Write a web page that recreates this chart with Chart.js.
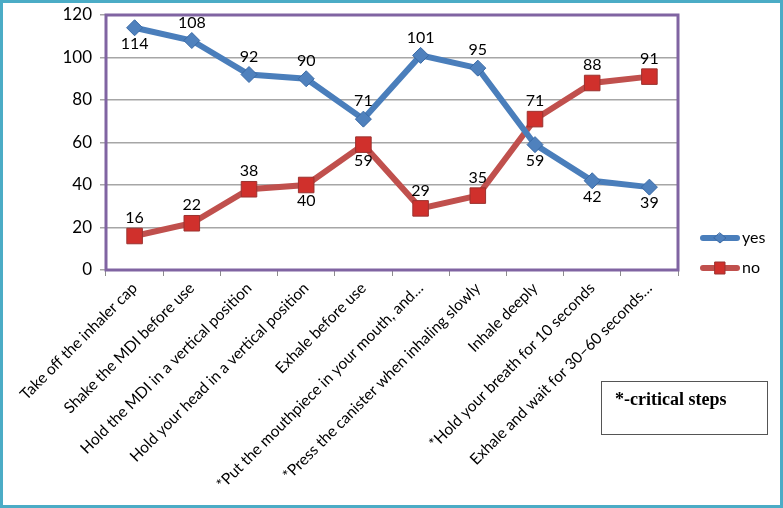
<!DOCTYPE html>
<html lang="en">
<head>
<meta charset="UTF-8" />
<title>Inhaler technique steps</title>
<script src="https://cdn.jsdelivr.net/npm/chart.js"></script>
<style>
    body { margin: 0; padding: 0; background: #fff; }
    .frame {
        position: relative;
        width: 783px;
        height: 508px;
        box-sizing: border-box;
        border: 3px solid #4bacc6;
        background: #fff;
    }
    canvas { display: block; }
    .note {
        position: absolute;
        left: 598px;
        top: 378px;
        width: 167px;
        height: 54px;
        box-sizing: border-box;
        border: 1px solid #555;
        font-family: "Liberation Serif", serif;
        font-weight: bold;
        font-size: 18px;
        padding: 7px 0 0 13px;
        color: #000;
    }
</style>
</head>
<body>
<div class="frame">
    <canvas id="chart" width="777" height="502"></canvas>
    <div class="note">*-critical steps</div>
</div>

<script>
// data
const categories = [
    'Take off the inhaler cap',
    'Shake the MDI before use',
    'Hold the MDI in a vertical position',
    'Hold your head in a vertical position',
    'Exhale before use',
    '*Put the mouthpiece in your mouth, and\u2026',
    '*Press the canister when inhaling slowly',
    'Inhale deeply',
    '*Hold your breath for 10 seconds',
    'Exhale and wait for 30\u201360 seconds\u2026'
];
const yesValues = [114, 108, 92, 90, 71, 101, 95, 59, 42, 39];
const noValues = [16, 22, 38, 40, 59, 29, 35, 71, 88, 91];
const yesLabelPos = ['below', 'above', 'above', 'above', 'above', 'above', 'above', 'below', 'below', 'below'];
const noLabelPos = ['above', 'above', 'above', 'below', 'below', 'above', 'above', 'above', 'above', 'above'];
const yTicks = [0, 20, 40, 60, 80, 100, 120];

const labelFont = 'Lato, "Open Sans", sans-serif';

// value labels above / below each point
const valueLabels = {
    id: 'valueLabels',
    afterDatasetsDraw(chart) {
        const ctx = chart.ctx;
        ctx.save();
        ctx.font = '16px ' + labelFont;
        ctx.fillStyle = '#000';
        ctx.textAlign = 'center';
        ctx.textBaseline = 'middle';
        chart.data.datasets.forEach((ds, i) => {
            const meta = chart.getDatasetMeta(i);
            meta.data.forEach((pt, j) => {
                const dy = ds.labelPos[j] === 'above' ? -18 : 16;
                ctx.fillText(String(ds.data[j]), pt.x, pt.y + dy);
            });
        });
        ctx.restore();
    }
};

// legend drawn as line + marker, like the original
const lineLegend = {
    id: 'lineLegend',
    afterDraw(chart) {
        const ctx = chart.ctx;
        ctx.save();
        chart.data.datasets.forEach((ds, i) => {
            const y = 235 + i * 30;
            const x0 = 700, x1 = 734;
            const cx = (x0 + x1) / 2;
            ctx.strokeStyle = ds.borderColor;
            ctx.lineWidth = 6;
            ctx.lineCap = 'round';
            ctx.beginPath();
            ctx.moveTo(x0, y);
            ctx.lineTo(x1, y);
            ctx.stroke();
            ctx.fillStyle = ds.pointBackgroundColor;
            ctx.strokeStyle = ds.pointBorderColor;
            ctx.lineWidth = 1;
            ctx.beginPath();
            if (ds.pointStyle === 'rect') {
                ctx.rect(cx - 5, y - 6, 10, 12);
            } else {
                ctx.moveTo(cx, y - 5); ctx.lineTo(cx + 6, y); ctx.lineTo(cx, y + 5); ctx.lineTo(cx - 6, y); ctx.closePath();
            }
            ctx.fill();
            ctx.stroke();
            ctx.fillStyle = '#000';
            ctx.font = '16px ' + labelFont;
            ctx.textAlign = 'left';
            ctx.textBaseline = 'middle';
            ctx.fillText(ds.label, x1 + 5, y);
        });
        ctx.restore();
    }
};

// purple frame around the plot area
const plotFrame = {
    id: 'plotFrame',
    afterDatasetsDraw(chart) {
        const a = chart.chartArea;
        const ctx = chart.ctx;
        ctx.save();
        ctx.strokeStyle = '#8064a2';
        ctx.lineWidth = 3;
        ctx.strokeRect(a.left, a.top, a.right - a.left, a.bottom - a.top);
        ctx.restore();
    }
};

new Chart(document.getElementById('chart').getContext('2d'), {
    type: 'line',
    data: {
        labels: categories,
        datasets: [{
            label: 'yes',
            data: yesValues,
            labelPos: yesLabelPos,
            borderColor: '#4a7ebb',
            borderWidth: 6,
            pointStyle: 'rectRot',
            pointRadius: 8,
            pointBackgroundColor: '#4f81bd',
            pointBorderColor: '#3a6aa5',
            pointBorderWidth: 1,
            tension: 0
        }, {
            label: 'no',
            data: noValues,
            labelPos: noLabelPos,
            borderColor: '#c0504d',
            borderWidth: 6,
            pointStyle: 'rect',
            pointRadius: 11,
            pointBackgroundColor: '#d0302c',
            pointBorderColor: '#9b3330',
            pointBorderWidth: 1,
            tension: 0
        }]
    },
    options: {
        responsive: false,
        animation: false,
        layout: { padding: { left: 0, right: 102, top: 4, bottom: 0 } },
        plugins: {
            legend: { display: false },
            tooltip: { enabled: false }
        },
        scales: {
            x: {
                offset: true,
                grid: {
                    offset: true,
                    drawOnChartArea: false,
                    drawTicks: true,
                    tickLength: 6,
                    color: '#8c8c8c'
                },
                border: { display: false },
                ticks: {
                    autoSkip: false,
                    minRotation: 45,
                    maxRotation: 45,
                    padding: 3,
                    color: '#000',
                    font: { family: labelFont, size: 15.5 }
                },
                afterFit(scale) { scale.height = 235; }
            },
            y: {
                min: 0,
                max: 120,
                afterBuildTicks(scale) { scale.ticks = yTicks.map(v => ({ value: v })); },
                grid: {
                    color: '#a6a6a6',
                    lineWidth: 1.5,
                    tickLength: 6
                },
                border: { display: false },
                ticks: {
                    padding: 8,
                    color: '#000',
                    font: { family: labelFont, size: 17 }
                },
                afterFit(scale) {
                    scale.width = 103;
                    scale.paddingTop = 0;
                    scale.paddingBottom = 0;
                }
            }
        }
    },
    plugins: [plotFrame, valueLabels, lineLegend]
});
</script>
</body>
</html>
